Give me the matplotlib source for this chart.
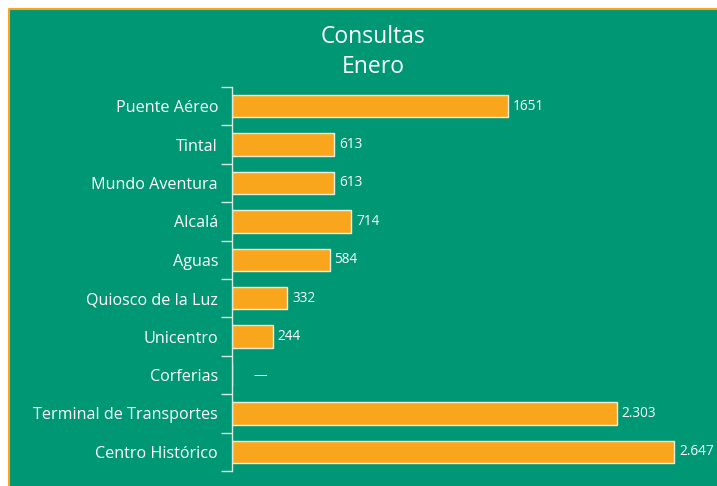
import matplotlib
matplotlib.use("Agg")
import matplotlib.pyplot as plt
from matplotlib.lines import Line2D
from matplotlib.patches import Rectangle
from matplotlib.ticker import FixedLocator

categories = ["Puente Aéreo", "Tintal", "Mundo Aventura", "Alcalá", "Aguas",
              "Quiosco de la Luz", "Unicentro", "Corferias",
              "Terminal de Transportes", "Centro Histórico"]
values = [1651, 613, 613, 714, 584, 332, 244, 0, 2303, 2647]
value_labels = ["1651", "613", "613", "714", "584", "332", "244", "—", "2.303", "2.647"]

green = "#009774"
orange = "#F9A61C"
plt.rcParams["font.family"] = ["Open Sans", "DejaVu Sans"]

fig = plt.figure(figsize=(7.17, 4.86), dpi=100)
fig.patch.set_facecolor("white")
x0, y0 = 9 / 717, 1 - 9 / 486
fig.patches.append(Rectangle((x0, 0), 1 - x0, y0, transform=fig.transFigure,
                             facecolor=green, edgecolor="none", zorder=-10))
# orange frame only on top and left
fig.lines.append(Line2D([x0, x0, 1], [0, y0, y0], transform=fig.transFigure,
                        color=orange, linewidth=1.5, zorder=-9))

ax = fig.add_axes([232 / 717, 15 / 486, (700 - 232) / 717, (471 - 87) / 486])
ax.set_facecolor("none")

y = list(range(len(categories)))
ax.barh(y, values, height=0.58, color=orange, edgecolor="#f4f0e0", linewidth=1)
for yi, v, lab in zip(y, values, value_labels):
    ax.text(v + 30 if v else 130, yi, lab, va="center", ha="left",
            color="white", fontsize=9.8)

ax.set_ylim(len(categories) - 0.5, -0.5)
ax.set_xlim(0, 2802)
ax.set_yticks(y)
ax.set_yticklabels(categories, fontsize=11.6, color="white")
ax.tick_params(axis="y", which="major", length=0, pad=10)
ax.yaxis.set_minor_locator(FixedLocator([i - 0.5 for i in range(len(categories) + 1)]))
ax.tick_params(axis="y", which="minor", length=8, width=1, color="#dde8e0")
ax.set_xticks([])
for side in ["top", "right", "bottom"]:
    ax.spines[side].set_visible(False)
ax.spines["left"].set_color("#dde8e0")
ax.spines["left"].set_linewidth(1)

fig.text(373 / 717, 1 - 37 / 486, "Consultas", ha="center", va="center",
         color="white", fontsize=16.5)
fig.text(373 / 717, 1 - 67 / 486, "Enero", ha="center", va="center",
         color="white", fontsize=16.5)

fig.savefig("out.png", dpi=100)
